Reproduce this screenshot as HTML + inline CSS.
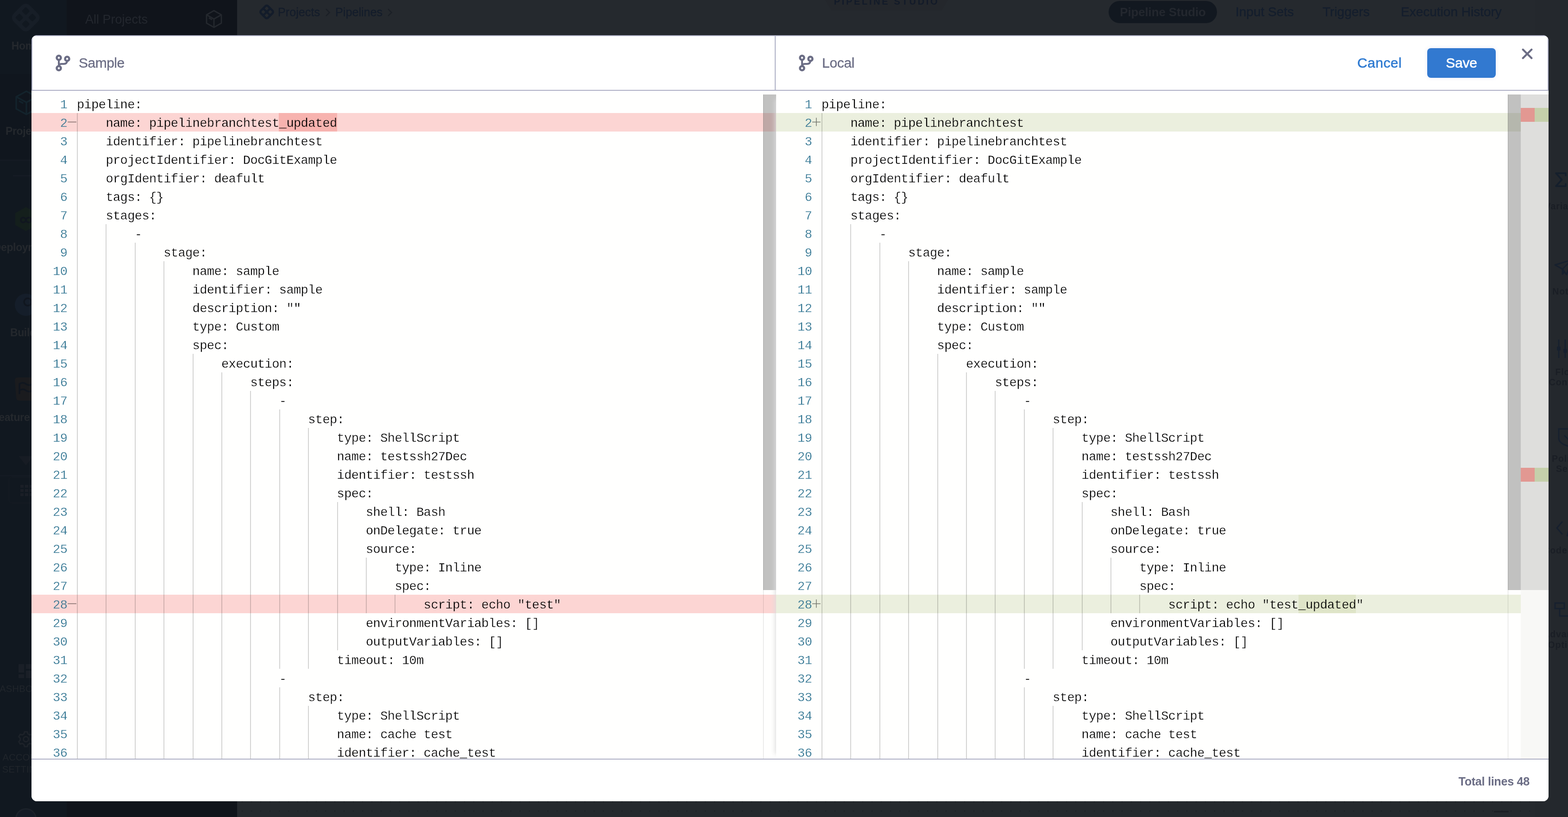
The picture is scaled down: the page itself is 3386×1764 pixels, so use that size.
<!DOCTYPE html>
<html lang="en">
<head>
<meta charset="utf-8">
<title>Pipeline Studio - Compare YAML</title>
<style>
html,body{margin:0;padding:0;}
@media (max-width:1700px){html{zoom:.5;}}
body{width:3386px;height:1764px;overflow:hidden;background:#25282e;font-family:"Liberation Sans","DejaVu Sans",sans-serif;position:relative;}
#page{will-change:transform;position:absolute;left:0;top:0;width:3386px;height:1764px;overflow:hidden;background:#25282e;}
#backdrop{position:absolute;left:0;top:0;width:3386px;height:1764px;background:transparent;}
#modal{will-change:transform;position:absolute;left:68px;top:76px;width:3276px;height:1654px;background:#fff;border-radius:12px;overflow:hidden;}
#hdr-left{position:absolute;left:0;top:0;width:1607px;height:120px;box-sizing:border-box;border:2px solid #aeb0c5;color:#6b6d85;}
#hdr-right{position:absolute;left:1607px;top:0;width:1669px;height:120px;box-sizing:border-box;border:2px solid #aeb0c5;border-left:0;color:#6b6d85;}
.branch{position:absolute;left:40px;top:32px;}
#hdr-right .branch{left:40px;}
.ttl{position:absolute;left:100px;top:40px;font-size:30px;line-height:36px;letter-spacing:-0.5px;white-space:nowrap;-webkit-text-stroke:0.35px #6b6d85;}
#hdr-right .ttl{left:100px;letter-spacing:-0.3px;}
#cancel{position:absolute;left:1256px;top:40px;font-size:30px;line-height:36px;color:#2e7ad1;white-space:nowrap;letter-spacing:0.45px;-webkit-text-stroke:0.6px #2e7ad1;}
#save{position:absolute;left:1407px;top:26px;width:148px;height:64px;box-sizing:border-box;padding-bottom:1px;border-radius:8px;background:#3279d0;color:#fff;font-size:30px;line-height:63px;letter-spacing:-0.2px;text-align:center;box-shadow:0 0 8px rgba(110,120,200,.16);-webkit-text-stroke:0.6px #fff;}
#close{position:absolute;left:3218px;top:28px;color:#6b6d85;}
#editor{position:absolute;left:0;top:120px;width:3276px;height:1442px;background:#fffffe;overflow:hidden;}
.pane{position:absolute;top:8px;height:1434px;overflow:hidden;font-family:"Liberation Mono","DejaVu Sans Mono",monospace;font-size:27px;letter-spacing:-0.6026px;}
#pane-l{left:0;width:1608px;}
#pane-r{left:1608px;width:1608px;box-shadow:-12px 0 10px -10px #ddd;}
.ln{position:relative;height:40px;width:100%;white-space:pre;line-height:40px;}
.ln.del{background:#fcd5d3;}
.ln.ins{background:#ebefde;}
.no{position:absolute;left:0;top:3px;width:77.3px;text-align:right;color:#2e7390;}
.tx{position:absolute;top:3px;color:#000;}
.del .ch{background:#f7b3af;}
.ins .ch{background:#dfe5c8;}
.ch{display:inline-block;height:40px;line-height:40px;margin-top:-3px;padding-top:3px;margin-left:-1px;padding-left:1px;box-sizing:border-box;vertical-align:top;}
.g{position:absolute;top:0;width:2px;height:40px;background:rgba(0,0,0,.17);}
.sg{position:absolute;left:78px;top:9px;width:20px;height:20px;display:block;fill:rgba(0,0,0,.5);}
.sb{position:absolute;right:0;top:0;width:28px;height:1070px;background:rgba(100,100,100,.4);}
.sbline{position:absolute;right:27px;top:0;width:1px;height:1434px;background:rgba(0,0,0,.14);}
#ov{position:absolute;left:3216px;top:8px;width:60px;height:1434px;background:#f8f8f6;}
#ov .vp{position:absolute;left:0;top:0;width:60px;height:1070px;background:#dededc;}
#ov .m{position:absolute;width:30px;height:30px;}
#ov .m.r{left:0;background:#e29892;}
#ov .m.a{left:30px;background:#c5d0ab;}
#ftr{position:absolute;left:0;top:1562px;width:3276px;height:92px;box-sizing:border-box;border-top:2px solid #aeb0c5;background:#fff;}
#total{position:absolute;right:41px;top:30.5px;font-size:25.2px;line-height:32px;letter-spacing:-0.3px;font-weight:bold;color:#6b6d85;white-space:nowrap;}
/* background page (dimmed) */
#nav1{position:absolute;left:0;top:0;width:144px;height:1764px;background:#111820;overflow:hidden;}
#nav2{position:absolute;left:144px;top:0;width:368px;height:1764px;background:#10141b;overflow:hidden;}
#main{position:absolute;left:512px;top:0;width:2874px;height:1764px;background:#25292e;overflow:hidden;}
button{border:0;padding:0;margin:0;background:none;font-family:inherit;cursor:pointer;display:block;}
.bt{position:absolute;white-space:nowrap;}
.ico{position:absolute;display:block;}
.navsel{position:absolute;left:0;top:160px;width:144px;height:184px;background:#10161e;}
.nl{left:-44px;width:200px;text-align:center;font-size:23px;line-height:28px;letter-spacing:-0.35px;font-weight:bold;color:#24282d;margin-top:1px;}
.nl2{left:-44px;width:200px;text-align:center;font-size:20px;line-height:28px;color:#20252b;letter-spacing:0.3px;}
.hr{position:absolute;height:2px;background:#151b24;}
.gridbox{position:absolute;left:18px;top:1029px;width:140px;height:58px;box-sizing:border-box;border:2px solid #141a22;border-radius:8px;}
.avatar{position:absolute;left:33px;top:1745px;width:46px;height:46px;box-sizing:border-box;border:3px solid #1c222a;border-radius:50%;background:#141b26;}
.bc{top:11px;font-size:25.2px;line-height:30px;color:#141d2b;-webkit-text-stroke:0.3px #141d2b;}
.pstab{position:absolute;left:1258px;top:-20px;width:289px;height:43px;background:#24272c;clip-path:polygon(0 0,100% 0,calc(100% - 26px) 100%,26px 100%);}
.pstab .bt{left:0;width:289px;text-align:center;top:10.7px;font-size:20px;line-height:24px;font-weight:bold;letter-spacing:3.7px;color:#131b29;}
.pill{position:absolute;left:1882px;top:2px;width:234px;height:48px;border-radius:24px;background:#121820;color:#23272e;font-size:26px;line-height:48px;letter-spacing:-0.15px;font-weight:bold;text-align:center;white-space:nowrap;}
.tab{top:11px;font-size:28px;line-height:30px;color:#141e2d;-webkit-text-stroke:0.4px #141e2d;}
.canvas{position:absolute;left:0;top:1700px;width:2802px;height:64px;background-image:radial-gradient(circle at 1px 1px,#1e2126 0,#1e2126 1.1px,rgba(30,33,38,0) 1.7px);background-size:20px 20px;background-position:10px 10px;}
.zoomminus{position:absolute;left:2714px;top:1751px;width:32px;height:3px;border-radius:2px;background:#1b1e24;}
#rbar{position:absolute;left:2802px;top:0;width:150px;height:1764px;background:#24282d;}
.rl{left:0;width:137px;text-align:center;font-size:19.5px;line-height:26px;font-weight:bold;letter-spacing:0.9px;color:#1a1e25;}
.tx,.no{-webkit-text-stroke:0.3px #fffffe;}
.del .tx,.del .no{-webkit-text-stroke-color:#fcd5d3;}
.ins .tx,.ins .no{-webkit-text-stroke-color:#ebefde;}
.del .ch{-webkit-text-stroke-color:#f7b3af;}
.ins .ch{-webkit-text-stroke-color:#dfe5c8;}
.ins .ch{margin-left:0;padding-left:0;}

</style>
</head>
<body>
<div id="page">
<div id="nav1">
  <div class="navsel"></div>
  <svg class="ico" style="left:20px;top:2px" width="72" height="72" viewBox="-36 -36 72 72"><g transform="translate(-0.250 -0.100) rotate(45)"><rect x="-24.600" y="-24.600" width="49.200" height="49.200" rx="12" fill="#171e27"/><g fill="#111820"><rect x="-16.200" y="-16.200" width="12.600" height="12.600" rx="2.500"/><rect x="3.600" y="-16.200" width="12.600" height="12.600" rx="2.500"/><rect x="-16.200" y="3.600" width="12.600" height="12.600" rx="2.500"/><rect x="3.600" y="3.600" width="12.600" height="12.600" rx="2.500"/></g></g></svg>
  <span class="bt nl" style="top:84px">Home</span>
  <svg class="ico" style="left:32px;top:194px" width="50" height="56" viewBox="0 0 50 56"><g fill="none" stroke="#13232c" stroke-width="3.4" stroke-linejoin="round"><path d="M25 3L47 15V41L25 53L3 41V15Z"/><path d="M3 15L25 27L47 15M25 27V53M9 24l9 5"/></g></svg>
  <span class="bt nl" style="top:268px">Projects</span>
  <i class="hr" style="top:345px;left:0;width:144px"></i>
  <i class="hr" style="top:378px;left:28px;width:56px;height:3px"></i>
  <svg class="ico" style="left:31px;top:446px" width="50" height="54" viewBox="0 0 50 54"><path fill="#141f1c" d="M25 1L48 14V40L25 53L2 40V14Z"/><path fill="none" stroke="#10161f" stroke-width="3.5" d="M14 29c0-7 9-7 11 0s11 7 11 0-9-7-11 0-11 7-11 0z"/></svg>
  <span class="bt nl" style="top:519px">Deployments</span>
  <svg class="ico" style="left:31px;top:632px" width="50" height="52" viewBox="0 0 50 52"><circle cx="25" cy="26" r="24" fill="#151e2a"/><circle cx="29" cy="20" r="8" fill="none" stroke="#10161f" stroke-width="3.5"/></svg>
  <span class="bt nl" style="top:703px">Builds</span>
  <svg class="ico" style="left:30px;top:813px" width="52" height="54" viewBox="0 0 52 54"><path fill="#1a1b1e" d="M8 2H44Q50 2 50 8L47 46Q46 52 40 52H12Q6 52 5 46L2 8Q2 2 8 2Z"/><path fill="none" stroke="#10161f" stroke-width="3.5" d="M12 38V16q8-5 14 0t14 0v14q-8 5-14 0t-14 0"/></svg>
  <span class="bt nl" style="top:886px">Feature Flags</span>
  <svg class="ico" style="left:40px;top:985px" width="32" height="20" viewBox="0 0 32 20"><path fill="#171c24" d="M0 0H32L16 20Z"/></svg>
  <i class="hr" style="top:1026px;left:0;width:144px"></i>
  <div class="gridbox"><svg width="28" height="26" viewBox="0 0 28 26" style="position:absolute;left:24px;top:16px"><g fill="#1a1f27"><rect x="0" y="0" width="7" height="6"/><rect x="10" y="0" width="7" height="6"/><rect x="20" y="0" width="7" height="6"/><rect x="0" y="9" width="7" height="6"/><rect x="10" y="9" width="7" height="6"/><rect x="20" y="9" width="7" height="6"/><rect x="0" y="18" width="7" height="6"/><rect x="10" y="18" width="7" height="6"/><rect x="20" y="18" width="7" height="6"/></g></svg></div>
  <svg class="ico" style="left:40px;top:1434px" width="32" height="30" viewBox="0 0 32 30"><g fill="#1a1f27"><rect x="0" y="0" width="12" height="18"/><rect x="16" y="0" width="16" height="10"/><rect x="0" y="22" width="12" height="8"/><rect x="16" y="14" width="16" height="16"/></g></svg>
  <span class="bt nl2" style="top:1473px">DASHBOARDS</span>
  <svg class="ico" style="left:39px;top:1578px" width="34" height="36" viewBox="0 0 34 36"><g fill="none" stroke="#1d2229" stroke-width="3"><circle cx="17" cy="18" r="5.500"/><path d="M14 2h6l1.200 4.500 3.800 2.200 4.500-1.200 3 5.200-3.300 3.300v4l3.300 3.300-3 5.200-4.500-1.200-3.800 2.200L20 34h-6l-1.200-4.500-3.800-2.200-4.500 1.200-3-5.200L4.800 20v-4L1.500 12.700l3-5.200L9 8.700l3.800-2.200z" stroke-linejoin="round"/></g></svg>
  <span class="bt nl2" style="top:1621px">ACCOUNT</span>
  <span class="bt nl2" style="top:1647px">SETTINGS</span>
  <i class="avatar"></i>
</div>
<div id="nav2">
  <span class="bt" style="left:40px;top:26px;font-size:27px;line-height:32px;color:#23272e">All Projects</span>
  <svg class="ico" style="left:300px;top:21px" width="36" height="40" viewBox="0 0 36 40"><g fill="none" stroke="#24282e" stroke-width="2.800" stroke-linejoin="round"><path d="M18 2L34 11V29L18 38L2 29V11Z"/><path d="M2 11L18 20L34 11M18 20V38M7 17.500l7 4"/></g></svg>
</div>
<div id="main">
  <svg class="ico" style="left:44px;top:6px" width="40" height="40" viewBox="-37.300 -37.300 74.600 74.600"><g transform="translate(0 -0.500) rotate(45)"><rect x="-24.600" y="-24.600" width="49.200" height="49.200" rx="12" fill="#131c2a"/><g fill="#25292e"><rect x="-15.700" y="-15.700" width="11.600" height="11.600" rx="2.500"/><rect x="4.100" y="-15.700" width="11.600" height="11.600" rx="2.500"/><rect x="-15.700" y="4.100" width="11.600" height="11.600" rx="2.500"/><rect x="4.100" y="4.100" width="11.600" height="11.600" rx="2.500"/></g></g></svg>
  <span class="bt bc" style="left:88px">Projects</span>
  <svg class="ico" style="left:190px;top:18px" width="12" height="18" viewBox="0 0 12 18"><path d="M2 1.500L9.500 9L2 16.500" fill="none" stroke="#1b1f26" stroke-width="2.400"/></svg>
  <span class="bt bc" style="left:212px">Pipelines</span>
  <svg class="ico" style="left:324px;top:18px" width="12" height="18" viewBox="0 0 12 18"><path d="M2 1.500L9.500 9L2 16.500" fill="none" stroke="#1b1f26" stroke-width="2.400"/></svg>
  <div class="pstab"><span class="bt">PIPELINE STUDIO</span></div>
  <div class="pill"><span>Pipeline Studio</span></div>
  <span class="bt tab" style="left:2156px">Input Sets</span>
  <span class="bt tab" style="left:2344px">Triggers</span>
  <span class="bt tab" style="left:2513px">Execution History</span>
  <div class="canvas"></div>
  <i class="zoomminus"></i>
  <div id="rbar">
    <svg class="ico" style="left:42px;top:370px" width="30" height="36" viewBox="0 0 30 36"><path d="M25 9V4H4L16.500 18L4 32H25V27" fill="none" stroke="#151f2c" stroke-width="3.5" stroke-linejoin="round" stroke-linecap="round"/></svg>
    <span class="bt rl" style="top:431.5px">Variables</span>
    <svg class="ico" style="left:42px;top:559px" width="40" height="36" viewBox="0 0 40 36"><path d="M2 13L38 2L27 34L18 22L2 13ZM18 22L38 2M18 22V33L23 27" fill="none" stroke="#17202e" stroke-width="3" stroke-linejoin="round"/></svg>
    <span class="bt rl" style="top:615.5px">Notify</span>
    <svg class="ico" style="left:47px;top:733px" width="56" height="40" viewBox="0 0 56 40"><g fill="none" stroke="#17202e" stroke-width="3"><path d="M5 0V40M19 0V40M33 0V40M47 0V40"/></g><g fill="#17202e"><rect x="1" y="15" width="8" height="9" rx="2"/><rect x="15" y="20" width="8" height="9" rx="2"/><rect x="29" y="10" width="8" height="9" rx="2"/><rect x="43" y="18" width="8" height="9" rx="2"/></g></svg>
    <span class="bt rl" style="top:789.5px">Flow</span>
    <span class="bt rl" style="top:811.5px">Control</span>
    <svg class="ico" style="left:50px;top:924px" width="50" height="42" viewBox="0 0 50 42"><path d="M2 2H48V22Q48 34 25 40Q2 34 2 22ZM14 16l9 9 14-14" fill="none" stroke="#17202e" stroke-width="3"/></svg>
    <span class="bt rl" style="top:976.5px">Policy</span>
    <span class="bt rl" style="top:999px">Sets</span>
    <svg class="ico" style="left:46px;top:1120px" width="60" height="40" viewBox="0 0 60 40"><path d="M14 6L2 20L14 34M34 2L24 38M44 6L56 20L44 34" fill="none" stroke="#17202e" stroke-width="3"/></svg>
    <span class="bt rl" style="top:1175px">Codebase</span>
    <svg class="ico" style="left:42px;top:1298px" width="56" height="40" viewBox="0 0 56 40"><path d="M2 4H22V16H2ZM12 16V32H32M32 26H54V38H32Z" fill="none" stroke="#17202e" stroke-width="3" stroke-dasharray="0"/></svg>
    <span class="bt rl" style="top:1356px">Advanced</span>
    <span class="bt rl" style="top:1378.5px">Options</span>
  </div>
</div>

</div>
<div id="backdrop"></div>
<div id="modal">
  <div id="hdr-left"><svg class="branch" viewBox="110 110 50 50" width="50" height="50"><g fill="none" stroke="currentColor"><circle cx="127" cy="124.7" r="4.5" stroke-width="4.6"/><circle cx="127" cy="147.2" r="4.5" stroke-width="4.6"/><circle cx="145" cy="127" r="4.5" stroke-width="4.6"/><path d="M127 129.5V142.5M127 142.2C127 139.3 129 138.2 133 138L138 137.9C142 137.9 144.6 136 145 131.8" stroke-width="4"/></g></svg><span class="ttl">Sample</span></div>
  <div id="hdr-right"><svg class="branch" viewBox="110 110 50 50" width="50" height="50"><g fill="none" stroke="currentColor"><circle cx="127" cy="124.7" r="4.5" stroke-width="4.6"/><circle cx="127" cy="147.2" r="4.5" stroke-width="4.6"/><circle cx="145" cy="127" r="4.5" stroke-width="4.6"/><path d="M127 129.5V142.5M127 142.2C127 139.3 129 138.2 133 138L138 137.9C142 137.9 144.6 136 145 131.8" stroke-width="4"/></g></svg><span class="ttl">Local</span>
    <button type="button" id="cancel">Cancel</button>
    <button type="button" id="save">Save</button>
  </div>
  <svg id="close" viewBox="0 0 24 24" width="24" height="24"><path d="M2.700 2.900L21.300 21.500M21.300 2.900L2.700 21.500" stroke="currentColor" stroke-width="4.200" stroke-linecap="round" fill="none"/></svg>
  <div id="editor">
    <div id="pane-l" class="pane">
<div class="ln"><span class="no">1</span><span class="tx" style="left:98.0px">pipeline:</span></div>
<div class="ln del"><span class="no">2</span><svg class="sg" viewBox="0 0 20 20"><path d="M0.200 9.700h18.700v1.500H0.200z"/></svg><i class="g" style="left:98.0px"></i><span class="tx" style="left:160.4px">name: pipelinebranchtest<span class="ch">_updated</span></span></div>
<div class="ln"><span class="no">3</span><i class="g" style="left:98.0px"></i><span class="tx" style="left:160.4px">identifier: pipelinebranchtest</span></div>
<div class="ln"><span class="no">4</span><i class="g" style="left:98.0px"></i><span class="tx" style="left:160.4px">projectIdentifier: DocGitExample</span></div>
<div class="ln"><span class="no">5</span><i class="g" style="left:98.0px"></i><span class="tx" style="left:160.4px">orgIdentifier: deafult</span></div>
<div class="ln"><span class="no">6</span><i class="g" style="left:98.0px"></i><span class="tx" style="left:160.4px">tags: {}</span></div>
<div class="ln"><span class="no">7</span><i class="g" style="left:98.0px"></i><span class="tx" style="left:160.4px">stages:</span></div>
<div class="ln"><span class="no">8</span><i class="g" style="left:98.0px"></i><i class="g" style="left:160.4px"></i><span class="tx" style="left:222.8px">-</span></div>
<div class="ln"><span class="no">9</span><i class="g" style="left:98.0px"></i><i class="g" style="left:160.4px"></i><i class="g" style="left:222.8px"></i><span class="tx" style="left:285.2px">stage:</span></div>
<div class="ln"><span class="no">10</span><i class="g" style="left:98.0px"></i><i class="g" style="left:160.4px"></i><i class="g" style="left:222.8px"></i><i class="g" style="left:285.2px"></i><span class="tx" style="left:347.6px">name: sample</span></div>
<div class="ln"><span class="no">11</span><i class="g" style="left:98.0px"></i><i class="g" style="left:160.4px"></i><i class="g" style="left:222.8px"></i><i class="g" style="left:285.2px"></i><span class="tx" style="left:347.6px">identifier: sample</span></div>
<div class="ln"><span class="no">12</span><i class="g" style="left:98.0px"></i><i class="g" style="left:160.4px"></i><i class="g" style="left:222.8px"></i><i class="g" style="left:285.2px"></i><span class="tx" style="left:347.6px">description: ""</span></div>
<div class="ln"><span class="no">13</span><i class="g" style="left:98.0px"></i><i class="g" style="left:160.4px"></i><i class="g" style="left:222.8px"></i><i class="g" style="left:285.2px"></i><span class="tx" style="left:347.6px">type: Custom</span></div>
<div class="ln"><span class="no">14</span><i class="g" style="left:98.0px"></i><i class="g" style="left:160.4px"></i><i class="g" style="left:222.8px"></i><i class="g" style="left:285.2px"></i><span class="tx" style="left:347.6px">spec:</span></div>
<div class="ln"><span class="no">15</span><i class="g" style="left:98.0px"></i><i class="g" style="left:160.4px"></i><i class="g" style="left:222.8px"></i><i class="g" style="left:285.2px"></i><i class="g" style="left:347.6px"></i><span class="tx" style="left:410.0px">execution:</span></div>
<div class="ln"><span class="no">16</span><i class="g" style="left:98.0px"></i><i class="g" style="left:160.4px"></i><i class="g" style="left:222.8px"></i><i class="g" style="left:285.2px"></i><i class="g" style="left:347.6px"></i><i class="g" style="left:410.0px"></i><span class="tx" style="left:472.4px">steps:</span></div>
<div class="ln"><span class="no">17</span><i class="g" style="left:98.0px"></i><i class="g" style="left:160.4px"></i><i class="g" style="left:222.8px"></i><i class="g" style="left:285.2px"></i><i class="g" style="left:347.6px"></i><i class="g" style="left:410.0px"></i><i class="g" style="left:472.4px"></i><span class="tx" style="left:534.8px">-</span></div>
<div class="ln"><span class="no">18</span><i class="g" style="left:98.0px"></i><i class="g" style="left:160.4px"></i><i class="g" style="left:222.8px"></i><i class="g" style="left:285.2px"></i><i class="g" style="left:347.6px"></i><i class="g" style="left:410.0px"></i><i class="g" style="left:472.4px"></i><i class="g" style="left:534.8px"></i><span class="tx" style="left:597.2px">step:</span></div>
<div class="ln"><span class="no">19</span><i class="g" style="left:98.0px"></i><i class="g" style="left:160.4px"></i><i class="g" style="left:222.8px"></i><i class="g" style="left:285.2px"></i><i class="g" style="left:347.6px"></i><i class="g" style="left:410.0px"></i><i class="g" style="left:472.4px"></i><i class="g" style="left:534.8px"></i><i class="g" style="left:597.2px"></i><span class="tx" style="left:659.6px">type: ShellScript</span></div>
<div class="ln"><span class="no">20</span><i class="g" style="left:98.0px"></i><i class="g" style="left:160.4px"></i><i class="g" style="left:222.8px"></i><i class="g" style="left:285.2px"></i><i class="g" style="left:347.6px"></i><i class="g" style="left:410.0px"></i><i class="g" style="left:472.4px"></i><i class="g" style="left:534.8px"></i><i class="g" style="left:597.2px"></i><span class="tx" style="left:659.6px">name: testssh27Dec</span></div>
<div class="ln"><span class="no">21</span><i class="g" style="left:98.0px"></i><i class="g" style="left:160.4px"></i><i class="g" style="left:222.8px"></i><i class="g" style="left:285.2px"></i><i class="g" style="left:347.6px"></i><i class="g" style="left:410.0px"></i><i class="g" style="left:472.4px"></i><i class="g" style="left:534.8px"></i><i class="g" style="left:597.2px"></i><span class="tx" style="left:659.6px">identifier: testssh</span></div>
<div class="ln"><span class="no">22</span><i class="g" style="left:98.0px"></i><i class="g" style="left:160.4px"></i><i class="g" style="left:222.8px"></i><i class="g" style="left:285.2px"></i><i class="g" style="left:347.6px"></i><i class="g" style="left:410.0px"></i><i class="g" style="left:472.4px"></i><i class="g" style="left:534.8px"></i><i class="g" style="left:597.2px"></i><span class="tx" style="left:659.6px">spec:</span></div>
<div class="ln"><span class="no">23</span><i class="g" style="left:98.0px"></i><i class="g" style="left:160.4px"></i><i class="g" style="left:222.8px"></i><i class="g" style="left:285.2px"></i><i class="g" style="left:347.6px"></i><i class="g" style="left:410.0px"></i><i class="g" style="left:472.4px"></i><i class="g" style="left:534.8px"></i><i class="g" style="left:597.2px"></i><i class="g" style="left:659.6px"></i><span class="tx" style="left:722.0px">shell: Bash</span></div>
<div class="ln"><span class="no">24</span><i class="g" style="left:98.0px"></i><i class="g" style="left:160.4px"></i><i class="g" style="left:222.8px"></i><i class="g" style="left:285.2px"></i><i class="g" style="left:347.6px"></i><i class="g" style="left:410.0px"></i><i class="g" style="left:472.4px"></i><i class="g" style="left:534.8px"></i><i class="g" style="left:597.2px"></i><i class="g" style="left:659.6px"></i><span class="tx" style="left:722.0px">onDelegate: true</span></div>
<div class="ln"><span class="no">25</span><i class="g" style="left:98.0px"></i><i class="g" style="left:160.4px"></i><i class="g" style="left:222.8px"></i><i class="g" style="left:285.2px"></i><i class="g" style="left:347.6px"></i><i class="g" style="left:410.0px"></i><i class="g" style="left:472.4px"></i><i class="g" style="left:534.8px"></i><i class="g" style="left:597.2px"></i><i class="g" style="left:659.6px"></i><span class="tx" style="left:722.0px">source:</span></div>
<div class="ln"><span class="no">26</span><i class="g" style="left:98.0px"></i><i class="g" style="left:160.4px"></i><i class="g" style="left:222.8px"></i><i class="g" style="left:285.2px"></i><i class="g" style="left:347.6px"></i><i class="g" style="left:410.0px"></i><i class="g" style="left:472.4px"></i><i class="g" style="left:534.8px"></i><i class="g" style="left:597.2px"></i><i class="g" style="left:659.6px"></i><i class="g" style="left:722.0px"></i><span class="tx" style="left:784.4px">type: Inline</span></div>
<div class="ln"><span class="no">27</span><i class="g" style="left:98.0px"></i><i class="g" style="left:160.4px"></i><i class="g" style="left:222.8px"></i><i class="g" style="left:285.2px"></i><i class="g" style="left:347.6px"></i><i class="g" style="left:410.0px"></i><i class="g" style="left:472.4px"></i><i class="g" style="left:534.8px"></i><i class="g" style="left:597.2px"></i><i class="g" style="left:659.6px"></i><i class="g" style="left:722.0px"></i><span class="tx" style="left:784.4px">spec:</span></div>
<div class="ln del"><span class="no">28</span><svg class="sg" viewBox="0 0 20 20"><path d="M0.200 9.700h18.700v1.500H0.200z"/></svg><i class="g" style="left:98.0px"></i><i class="g" style="left:160.4px"></i><i class="g" style="left:222.8px"></i><i class="g" style="left:285.2px"></i><i class="g" style="left:347.6px"></i><i class="g" style="left:410.0px"></i><i class="g" style="left:472.4px"></i><i class="g" style="left:534.8px"></i><i class="g" style="left:597.2px"></i><i class="g" style="left:659.6px"></i><i class="g" style="left:722.0px"></i><i class="g" style="left:784.4px"></i><span class="tx" style="left:846.8px">script: echo "test"</span></div>
<div class="ln"><span class="no">29</span><i class="g" style="left:98.0px"></i><i class="g" style="left:160.4px"></i><i class="g" style="left:222.8px"></i><i class="g" style="left:285.2px"></i><i class="g" style="left:347.6px"></i><i class="g" style="left:410.0px"></i><i class="g" style="left:472.4px"></i><i class="g" style="left:534.8px"></i><i class="g" style="left:597.2px"></i><i class="g" style="left:659.6px"></i><span class="tx" style="left:722.0px">environmentVariables: []</span></div>
<div class="ln"><span class="no">30</span><i class="g" style="left:98.0px"></i><i class="g" style="left:160.4px"></i><i class="g" style="left:222.8px"></i><i class="g" style="left:285.2px"></i><i class="g" style="left:347.6px"></i><i class="g" style="left:410.0px"></i><i class="g" style="left:472.4px"></i><i class="g" style="left:534.8px"></i><i class="g" style="left:597.2px"></i><i class="g" style="left:659.6px"></i><span class="tx" style="left:722.0px">outputVariables: []</span></div>
<div class="ln"><span class="no">31</span><i class="g" style="left:98.0px"></i><i class="g" style="left:160.4px"></i><i class="g" style="left:222.8px"></i><i class="g" style="left:285.2px"></i><i class="g" style="left:347.6px"></i><i class="g" style="left:410.0px"></i><i class="g" style="left:472.4px"></i><i class="g" style="left:534.8px"></i><i class="g" style="left:597.2px"></i><span class="tx" style="left:659.6px">timeout: 10m</span></div>
<div class="ln"><span class="no">32</span><i class="g" style="left:98.0px"></i><i class="g" style="left:160.4px"></i><i class="g" style="left:222.8px"></i><i class="g" style="left:285.2px"></i><i class="g" style="left:347.6px"></i><i class="g" style="left:410.0px"></i><i class="g" style="left:472.4px"></i><span class="tx" style="left:534.8px">-</span></div>
<div class="ln"><span class="no">33</span><i class="g" style="left:98.0px"></i><i class="g" style="left:160.4px"></i><i class="g" style="left:222.8px"></i><i class="g" style="left:285.2px"></i><i class="g" style="left:347.6px"></i><i class="g" style="left:410.0px"></i><i class="g" style="left:472.4px"></i><i class="g" style="left:534.8px"></i><span class="tx" style="left:597.2px">step:</span></div>
<div class="ln"><span class="no">34</span><i class="g" style="left:98.0px"></i><i class="g" style="left:160.4px"></i><i class="g" style="left:222.8px"></i><i class="g" style="left:285.2px"></i><i class="g" style="left:347.6px"></i><i class="g" style="left:410.0px"></i><i class="g" style="left:472.4px"></i><i class="g" style="left:534.8px"></i><i class="g" style="left:597.2px"></i><span class="tx" style="left:659.6px">type: ShellScript</span></div>
<div class="ln"><span class="no">35</span><i class="g" style="left:98.0px"></i><i class="g" style="left:160.4px"></i><i class="g" style="left:222.8px"></i><i class="g" style="left:285.2px"></i><i class="g" style="left:347.6px"></i><i class="g" style="left:410.0px"></i><i class="g" style="left:472.4px"></i><i class="g" style="left:534.8px"></i><i class="g" style="left:597.2px"></i><span class="tx" style="left:659.6px">name: cache test</span></div>
<div class="ln"><span class="no">36</span><i class="g" style="left:98.0px"></i><i class="g" style="left:160.4px"></i><i class="g" style="left:222.8px"></i><i class="g" style="left:285.2px"></i><i class="g" style="left:347.6px"></i><i class="g" style="left:410.0px"></i><i class="g" style="left:472.4px"></i><i class="g" style="left:534.8px"></i><i class="g" style="left:597.2px"></i><span class="tx" style="left:659.6px">identifier: cache_test</span></div>
      <div class="sb"></div><div class="sbline"></div>
    </div>
    <div id="pane-r" class="pane">
<div class="ln"><span class="no">1</span><span class="tx" style="left:98.0px">pipeline:</span></div>
<div class="ln ins"><span class="no">2</span><svg class="sg" viewBox="0 0 20 20"><path d="M0 9.700h17.800v1.500H0zM8 1.300h1.500v8.400H8zM8 11.200h1.500v8H8z"/></svg><i class="g" style="left:98.0px"></i><span class="tx" style="left:160.4px">name: pipelinebranchtest</span></div>
<div class="ln"><span class="no">3</span><i class="g" style="left:98.0px"></i><span class="tx" style="left:160.4px">identifier: pipelinebranchtest</span></div>
<div class="ln"><span class="no">4</span><i class="g" style="left:98.0px"></i><span class="tx" style="left:160.4px">projectIdentifier: DocGitExample</span></div>
<div class="ln"><span class="no">5</span><i class="g" style="left:98.0px"></i><span class="tx" style="left:160.4px">orgIdentifier: deafult</span></div>
<div class="ln"><span class="no">6</span><i class="g" style="left:98.0px"></i><span class="tx" style="left:160.4px">tags: {}</span></div>
<div class="ln"><span class="no">7</span><i class="g" style="left:98.0px"></i><span class="tx" style="left:160.4px">stages:</span></div>
<div class="ln"><span class="no">8</span><i class="g" style="left:98.0px"></i><i class="g" style="left:160.4px"></i><span class="tx" style="left:222.8px">-</span></div>
<div class="ln"><span class="no">9</span><i class="g" style="left:98.0px"></i><i class="g" style="left:160.4px"></i><i class="g" style="left:222.8px"></i><span class="tx" style="left:285.2px">stage:</span></div>
<div class="ln"><span class="no">10</span><i class="g" style="left:98.0px"></i><i class="g" style="left:160.4px"></i><i class="g" style="left:222.8px"></i><i class="g" style="left:285.2px"></i><span class="tx" style="left:347.6px">name: sample</span></div>
<div class="ln"><span class="no">11</span><i class="g" style="left:98.0px"></i><i class="g" style="left:160.4px"></i><i class="g" style="left:222.8px"></i><i class="g" style="left:285.2px"></i><span class="tx" style="left:347.6px">identifier: sample</span></div>
<div class="ln"><span class="no">12</span><i class="g" style="left:98.0px"></i><i class="g" style="left:160.4px"></i><i class="g" style="left:222.8px"></i><i class="g" style="left:285.2px"></i><span class="tx" style="left:347.6px">description: ""</span></div>
<div class="ln"><span class="no">13</span><i class="g" style="left:98.0px"></i><i class="g" style="left:160.4px"></i><i class="g" style="left:222.8px"></i><i class="g" style="left:285.2px"></i><span class="tx" style="left:347.6px">type: Custom</span></div>
<div class="ln"><span class="no">14</span><i class="g" style="left:98.0px"></i><i class="g" style="left:160.4px"></i><i class="g" style="left:222.8px"></i><i class="g" style="left:285.2px"></i><span class="tx" style="left:347.6px">spec:</span></div>
<div class="ln"><span class="no">15</span><i class="g" style="left:98.0px"></i><i class="g" style="left:160.4px"></i><i class="g" style="left:222.8px"></i><i class="g" style="left:285.2px"></i><i class="g" style="left:347.6px"></i><span class="tx" style="left:410.0px">execution:</span></div>
<div class="ln"><span class="no">16</span><i class="g" style="left:98.0px"></i><i class="g" style="left:160.4px"></i><i class="g" style="left:222.8px"></i><i class="g" style="left:285.2px"></i><i class="g" style="left:347.6px"></i><i class="g" style="left:410.0px"></i><span class="tx" style="left:472.4px">steps:</span></div>
<div class="ln"><span class="no">17</span><i class="g" style="left:98.0px"></i><i class="g" style="left:160.4px"></i><i class="g" style="left:222.8px"></i><i class="g" style="left:285.2px"></i><i class="g" style="left:347.6px"></i><i class="g" style="left:410.0px"></i><i class="g" style="left:472.4px"></i><span class="tx" style="left:534.8px">-</span></div>
<div class="ln"><span class="no">18</span><i class="g" style="left:98.0px"></i><i class="g" style="left:160.4px"></i><i class="g" style="left:222.8px"></i><i class="g" style="left:285.2px"></i><i class="g" style="left:347.6px"></i><i class="g" style="left:410.0px"></i><i class="g" style="left:472.4px"></i><i class="g" style="left:534.8px"></i><span class="tx" style="left:597.2px">step:</span></div>
<div class="ln"><span class="no">19</span><i class="g" style="left:98.0px"></i><i class="g" style="left:160.4px"></i><i class="g" style="left:222.8px"></i><i class="g" style="left:285.2px"></i><i class="g" style="left:347.6px"></i><i class="g" style="left:410.0px"></i><i class="g" style="left:472.4px"></i><i class="g" style="left:534.8px"></i><i class="g" style="left:597.2px"></i><span class="tx" style="left:659.6px">type: ShellScript</span></div>
<div class="ln"><span class="no">20</span><i class="g" style="left:98.0px"></i><i class="g" style="left:160.4px"></i><i class="g" style="left:222.8px"></i><i class="g" style="left:285.2px"></i><i class="g" style="left:347.6px"></i><i class="g" style="left:410.0px"></i><i class="g" style="left:472.4px"></i><i class="g" style="left:534.8px"></i><i class="g" style="left:597.2px"></i><span class="tx" style="left:659.6px">name: testssh27Dec</span></div>
<div class="ln"><span class="no">21</span><i class="g" style="left:98.0px"></i><i class="g" style="left:160.4px"></i><i class="g" style="left:222.8px"></i><i class="g" style="left:285.2px"></i><i class="g" style="left:347.6px"></i><i class="g" style="left:410.0px"></i><i class="g" style="left:472.4px"></i><i class="g" style="left:534.8px"></i><i class="g" style="left:597.2px"></i><span class="tx" style="left:659.6px">identifier: testssh</span></div>
<div class="ln"><span class="no">22</span><i class="g" style="left:98.0px"></i><i class="g" style="left:160.4px"></i><i class="g" style="left:222.8px"></i><i class="g" style="left:285.2px"></i><i class="g" style="left:347.6px"></i><i class="g" style="left:410.0px"></i><i class="g" style="left:472.4px"></i><i class="g" style="left:534.8px"></i><i class="g" style="left:597.2px"></i><span class="tx" style="left:659.6px">spec:</span></div>
<div class="ln"><span class="no">23</span><i class="g" style="left:98.0px"></i><i class="g" style="left:160.4px"></i><i class="g" style="left:222.8px"></i><i class="g" style="left:285.2px"></i><i class="g" style="left:347.6px"></i><i class="g" style="left:410.0px"></i><i class="g" style="left:472.4px"></i><i class="g" style="left:534.8px"></i><i class="g" style="left:597.2px"></i><i class="g" style="left:659.6px"></i><span class="tx" style="left:722.0px">shell: Bash</span></div>
<div class="ln"><span class="no">24</span><i class="g" style="left:98.0px"></i><i class="g" style="left:160.4px"></i><i class="g" style="left:222.8px"></i><i class="g" style="left:285.2px"></i><i class="g" style="left:347.6px"></i><i class="g" style="left:410.0px"></i><i class="g" style="left:472.4px"></i><i class="g" style="left:534.8px"></i><i class="g" style="left:597.2px"></i><i class="g" style="left:659.6px"></i><span class="tx" style="left:722.0px">onDelegate: true</span></div>
<div class="ln"><span class="no">25</span><i class="g" style="left:98.0px"></i><i class="g" style="left:160.4px"></i><i class="g" style="left:222.8px"></i><i class="g" style="left:285.2px"></i><i class="g" style="left:347.6px"></i><i class="g" style="left:410.0px"></i><i class="g" style="left:472.4px"></i><i class="g" style="left:534.8px"></i><i class="g" style="left:597.2px"></i><i class="g" style="left:659.6px"></i><span class="tx" style="left:722.0px">source:</span></div>
<div class="ln"><span class="no">26</span><i class="g" style="left:98.0px"></i><i class="g" style="left:160.4px"></i><i class="g" style="left:222.8px"></i><i class="g" style="left:285.2px"></i><i class="g" style="left:347.6px"></i><i class="g" style="left:410.0px"></i><i class="g" style="left:472.4px"></i><i class="g" style="left:534.8px"></i><i class="g" style="left:597.2px"></i><i class="g" style="left:659.6px"></i><i class="g" style="left:722.0px"></i><span class="tx" style="left:784.4px">type: Inline</span></div>
<div class="ln"><span class="no">27</span><i class="g" style="left:98.0px"></i><i class="g" style="left:160.4px"></i><i class="g" style="left:222.8px"></i><i class="g" style="left:285.2px"></i><i class="g" style="left:347.6px"></i><i class="g" style="left:410.0px"></i><i class="g" style="left:472.4px"></i><i class="g" style="left:534.8px"></i><i class="g" style="left:597.2px"></i><i class="g" style="left:659.6px"></i><i class="g" style="left:722.0px"></i><span class="tx" style="left:784.4px">spec:</span></div>
<div class="ln ins"><span class="no">28</span><svg class="sg" viewBox="0 0 20 20"><path d="M0 9.700h17.800v1.500H0zM8 1.300h1.500v8.400H8zM8 11.200h1.500v8H8z"/></svg><i class="g" style="left:98.0px"></i><i class="g" style="left:160.4px"></i><i class="g" style="left:222.8px"></i><i class="g" style="left:285.2px"></i><i class="g" style="left:347.6px"></i><i class="g" style="left:410.0px"></i><i class="g" style="left:472.4px"></i><i class="g" style="left:534.8px"></i><i class="g" style="left:597.2px"></i><i class="g" style="left:659.6px"></i><i class="g" style="left:722.0px"></i><i class="g" style="left:784.4px"></i><span class="tx" style="left:846.8px">script: echo "test<span class="ch">_updated</span>"</span></div>
<div class="ln"><span class="no">29</span><i class="g" style="left:98.0px"></i><i class="g" style="left:160.4px"></i><i class="g" style="left:222.8px"></i><i class="g" style="left:285.2px"></i><i class="g" style="left:347.6px"></i><i class="g" style="left:410.0px"></i><i class="g" style="left:472.4px"></i><i class="g" style="left:534.8px"></i><i class="g" style="left:597.2px"></i><i class="g" style="left:659.6px"></i><span class="tx" style="left:722.0px">environmentVariables: []</span></div>
<div class="ln"><span class="no">30</span><i class="g" style="left:98.0px"></i><i class="g" style="left:160.4px"></i><i class="g" style="left:222.8px"></i><i class="g" style="left:285.2px"></i><i class="g" style="left:347.6px"></i><i class="g" style="left:410.0px"></i><i class="g" style="left:472.4px"></i><i class="g" style="left:534.8px"></i><i class="g" style="left:597.2px"></i><i class="g" style="left:659.6px"></i><span class="tx" style="left:722.0px">outputVariables: []</span></div>
<div class="ln"><span class="no">31</span><i class="g" style="left:98.0px"></i><i class="g" style="left:160.4px"></i><i class="g" style="left:222.8px"></i><i class="g" style="left:285.2px"></i><i class="g" style="left:347.6px"></i><i class="g" style="left:410.0px"></i><i class="g" style="left:472.4px"></i><i class="g" style="left:534.8px"></i><i class="g" style="left:597.2px"></i><span class="tx" style="left:659.6px">timeout: 10m</span></div>
<div class="ln"><span class="no">32</span><i class="g" style="left:98.0px"></i><i class="g" style="left:160.4px"></i><i class="g" style="left:222.8px"></i><i class="g" style="left:285.2px"></i><i class="g" style="left:347.6px"></i><i class="g" style="left:410.0px"></i><i class="g" style="left:472.4px"></i><span class="tx" style="left:534.8px">-</span></div>
<div class="ln"><span class="no">33</span><i class="g" style="left:98.0px"></i><i class="g" style="left:160.4px"></i><i class="g" style="left:222.8px"></i><i class="g" style="left:285.2px"></i><i class="g" style="left:347.6px"></i><i class="g" style="left:410.0px"></i><i class="g" style="left:472.4px"></i><i class="g" style="left:534.8px"></i><span class="tx" style="left:597.2px">step:</span></div>
<div class="ln"><span class="no">34</span><i class="g" style="left:98.0px"></i><i class="g" style="left:160.4px"></i><i class="g" style="left:222.8px"></i><i class="g" style="left:285.2px"></i><i class="g" style="left:347.6px"></i><i class="g" style="left:410.0px"></i><i class="g" style="left:472.4px"></i><i class="g" style="left:534.8px"></i><i class="g" style="left:597.2px"></i><span class="tx" style="left:659.6px">type: ShellScript</span></div>
<div class="ln"><span class="no">35</span><i class="g" style="left:98.0px"></i><i class="g" style="left:160.4px"></i><i class="g" style="left:222.8px"></i><i class="g" style="left:285.2px"></i><i class="g" style="left:347.6px"></i><i class="g" style="left:410.0px"></i><i class="g" style="left:472.4px"></i><i class="g" style="left:534.8px"></i><i class="g" style="left:597.2px"></i><span class="tx" style="left:659.6px">name: cache test</span></div>
<div class="ln"><span class="no">36</span><i class="g" style="left:98.0px"></i><i class="g" style="left:160.4px"></i><i class="g" style="left:222.8px"></i><i class="g" style="left:285.2px"></i><i class="g" style="left:347.6px"></i><i class="g" style="left:410.0px"></i><i class="g" style="left:472.4px"></i><i class="g" style="left:534.8px"></i><i class="g" style="left:597.2px"></i><span class="tx" style="left:659.6px">identifier: cache_test</span></div>
      <div class="sb"></div><div class="sbline"></div>
    </div>
    <div id="ov">
      <div class="vp"></div>
      <i class="m r" style="top:29px"></i><i class="m a" style="top:29px"></i>
      <i class="m r" style="top:806px"></i><i class="m a" style="top:806px"></i>
    </div>
  </div>
  <div id="ftr"><span id="total">Total lines 48</span></div>
</div>
</body>
</html>
